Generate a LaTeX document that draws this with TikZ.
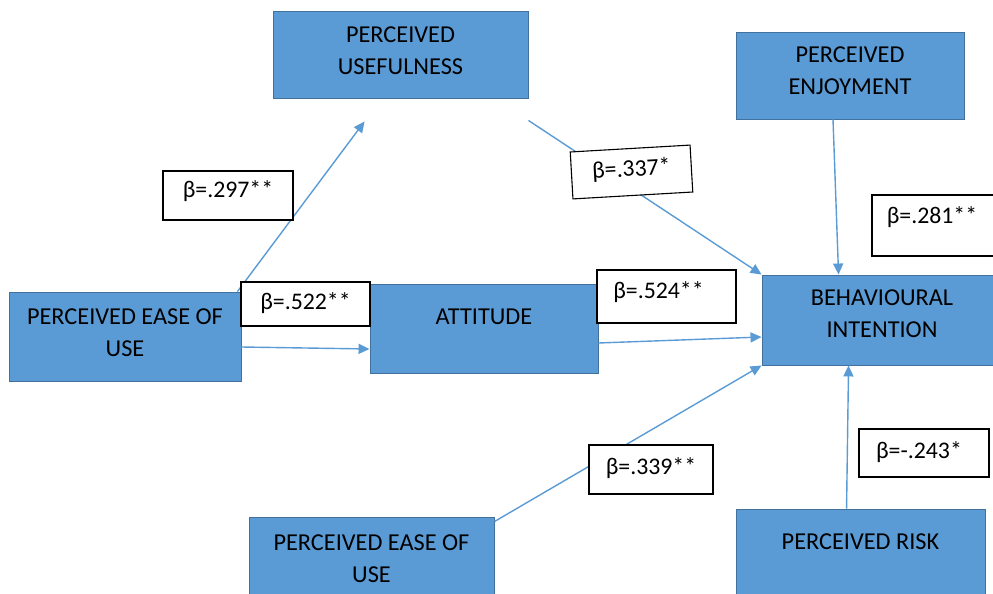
\documentclass[tikz,border=0pt]{standalone}
\usepackage{fontspec}
\setmainfont{Carlito}
\usetikzlibrary{arrows.meta,calc}
\definecolor{boxfill}{HTML}{5B9BD5}
\definecolor{boxline}{HTML}{41719C}
\definecolor{arrowc}{HTML}{5B9BD5}
\tikzset{
  cbox/.style={draw=boxline, line width=0.9pt, fill=boxfill, inner sep=0pt},
  ctext/.style={align=center, text=black, font=\fontsize{24.3}{32}\selectfont, inner sep=0pt},
  bbox/.style={draw=black, line width=1.1pt, fill=white, inner sep=0pt},
  btext/.style={text=black, font=\fontsize{23.8}{28}\selectfont, inner sep=0pt},
  conn/.style={draw=arrowc, line width=1.4pt, -{Triangle[length=11pt,width=10pt]}}
}
\begin{document}
\begin{tikzpicture}[x=1pt,y=-1pt]
\useasboundingbox (0,0) rectangle (993,594);
\clip (0,0) rectangle (993,594);
% boxes
\node[cbox, minimum width=255pt, minimum height=87pt,
  label={[ctext,yshift=3.5pt]center:PERCEIVED\\USEFULNESS}] (PU) at (400.5,54.5) {};
\node[cbox, minimum width=228pt, minimum height=87pt,
  label={[ctext,yshift=4.5pt]center:PERCEIVED\\ENJOYMENT}] (PE) at (850,75.5) {};
\node[cbox, minimum width=232pt, minimum height=89pt,
  label={[ctext,yshift=3.5pt]center:PERCEIVED EASE OF\\USE}] (PEOU1) at (125,336.5) {};
\node[cbox, minimum width=228pt, minimum height=89pt,
  label={[ctext,yshift=11.5pt]center:ATTITUDE}] (ATT) at (484,328.5) {};
\node[cbox, minimum width=240pt, minimum height=90pt,
  label={[ctext,yshift=6pt]center:BEHAVIOURAL\\INTENTION}] (BI) at (882,320) {};
\node[cbox, minimum width=245pt, minimum height=89pt,
  label={[ctext,yshift=2.5pt]center:PERCEIVED EASE OF\\USE}] (PEOU2) at (371.5,561.5) {};
\node[cbox, minimum width=249pt, minimum height=89pt,
  label={[ctext,yshift=11.5pt]center:PERCEIVED RISK}] (PR) at (860.5,553.5) {};
% connectors
\coordinate (tPU) at ($(PU.south west)+(92,23)$);
\coordinate (sPU) at ($(PU.south east)+(0,22)$);
\draw[conn] ($(PEOU1.north east)+(-4,0)$) -- (tPU);
\draw[conn] (sPU) -- (BI.north west);
\draw[conn] ($(PE.south)+(-17,0)$) -- ($(BI.north west)+(77,0)$);
\draw[conn] ($(PEOU1.east)+(0,10.5)$) -- ($(ATT.west)+(0,20.5)$);
\draw[conn] ($(ATT.east)+(0,14.5)$) -- ($(BI.west)+(0,17)$);
\draw[conn] ($(PEOU2.north east)+(0,5)$) -- (BI.south west);
\draw[conn] ($(PR.north west)+(111,0)$) -- ($(BI.south west)+(87,0)$);
% coefficient boxes
\node[bbox, minimum width=130pt, minimum height=49pt,
  label={[btext,yshift=4pt]center:β=.297**}] (L297) at (228,195.5) {};
\node[bbox, minimum width=120pt, minimum height=47pt, rotate=3.3,
  label={[btext,rotate=3.3,yshift=2pt]center:β=.337*}] (L337) at (631.5,172) {};
\node[bbox, minimum width=130pt, minimum height=61pt,
  label={[btext,yshift=8pt,xshift=-5pt]center:β=.281**}] (L281) at (937,225.5) {};
\node[bbox, minimum width=129pt, minimum height=44pt,
  label={[btext,yshift=1pt]center:β=.522**}] (L522) at (305.5,304) {};
\node[bbox, minimum width=139pt, minimum height=53pt,
  label={[btext,yshift=4.5pt,xshift=-8pt]center:β=.524**}] (L524) at (666.5,296.5) {};
\node[bbox, minimum width=130pt, minimum height=48pt,
  label={[btext,yshift=1pt,xshift=-5pt]center:β=-.243*}] (L243) at (924,453) {};
\node[bbox, minimum width=124pt, minimum height=49pt,
  label={[btext,yshift=1.5pt]center:β=.339**}] (L339) at (651,469.5) {};
\end{tikzpicture}
\end{document}
